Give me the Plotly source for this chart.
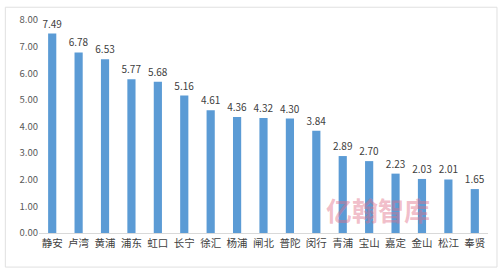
import plotly.graph_objects as go

districts = ["静安", "卢湾", "黄浦", "浦东", "虹口", "长宁", "徐汇", "杨浦", "闸北", "普陀",
             "闵行", "青浦", "宝山", "嘉定", "金山", "松江", "奉贤"]
values = [7.49, 6.78, 6.53, 5.77, 5.68, 5.16, 4.61, 4.36, 4.32, 4.30,
          3.84, 2.89, 2.70, 2.23, 2.03, 2.01, 1.65]
y_ticks = [0, 1, 2, 3, 4, 5, 6, 7, 8]

font_family = "Noto Sans CJK SC, Noto Sans, sans-serif"

fig = go.Figure(go.Bar(
    x=districts, y=values,
    marker=dict(color="#5B9BD5", line=dict(width=0)),
    text=[f"{v:.2f}" for v in values],
    textposition="outside",
    textangle=0,
    constraintext="none",
    textfont=dict(size=10, color="#404040", family=font_family),
    cliponaxis=False,
))

fig.update_layout(
    width=500, height=268,
    margin=dict(l=39, r=12, t=15, b=35),
    paper_bgcolor="white", plot_bgcolor="white",
    bargap=0.69,
    showlegend=False,
    font=dict(family=font_family, color="#595959"),
    xaxis=dict(showgrid=False, showline=True, linecolor="#D9D9D9", linewidth=1,
               ticks="", tickfont=dict(size=10.5, color="#404040")),
    yaxis=dict(range=[0, 8], tickvals=y_ticks, tickformat=".2f", showgrid=False,
               zeroline=False, showline=False, ticks="",
               tickfont=dict(size=9.5, color="#595959")),
)

fig.add_annotation(
    x=0.875, y=0.11, xref="paper", yref="paper", yanchor="middle",
    text="<b>亿翰智库</b>", showarrow=False,
    font=dict(size=26, color="rgba(225,110,135,0.45)", family=font_family),
)

fig.add_shape(type="rect", xref="paper", yref="paper", x0=-0.075, x1=1.02, y0=-0.16, y1=1.06,
              line=dict(color="#E0E0E0", width=1), fillcolor="rgba(0,0,0,0)", layer="below")

fig.write_html("out.html")
